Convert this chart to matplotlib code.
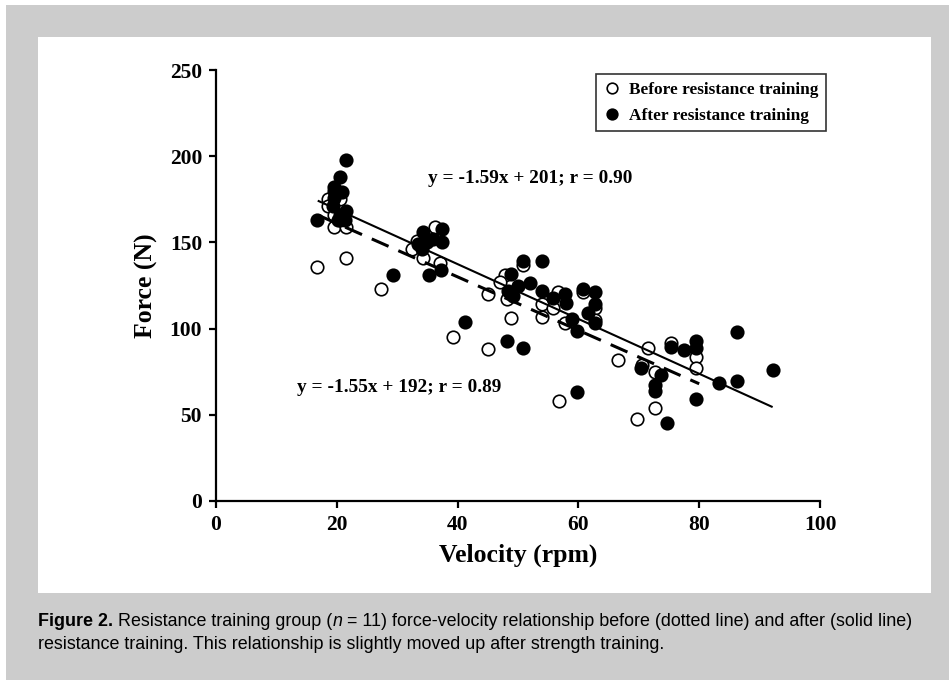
import numpy as np
import matplotlib
matplotlib.use('Agg')
from matplotlib import pyplot as plt
from matplotlib.patches import Rectangle

# before resistance training (open circles)
before_vel = [18.5, 18.5, 19.5, 20.5, 19.5, 21.5, 20.5, 16.7, 21.5, 27.4,
              36.3, 33.2, 32.4, 34.3, 37.1, 39.3, 47.8, 47.0, 45.1, 48.1,
              53.9, 56.7, 55.8, 53.9, 48.9, 57.8, 50.9, 60.8, 62.7, 45.1,
              66.6, 56.8, 69.7, 71.6, 70.6, 72.6, 72.7, 75.4, 79.5, 79.5, 62.7]
before_force = [175, 171, 166, 175, 159, 159, 163, 136, 141, 123,
                159, 151, 146, 141, 138, 95, 131, 127, 120, 117,
                114, 121, 112, 107, 106, 103, 137, 121, 112, 88,
                82, 58, 47.5, 89, 79, 74.6, 54, 91.7, 83.5, 77, 105]

# after resistance training (filled circles)
after_vel = [16.7, 19.5, 20.5, 21.5, 19.6, 20.8, 19.4, 21.6, 21.4, 20.2, 19.5, 20.5,
             29.3, 35.3, 37.3, 34.3, 37.4, 37.4, 33.5, 34.9, 34.1, 36.0, 41.2,
             48.1, 50.9, 50.9, 53.9, 48.9, 52.0, 50.0, 48.4, 53.9, 49.2, 55.8, 57.8,
             58.0, 60.8, 62.7, 62.7, 61.6, 58.9, 62.7, 59.7, 59.7, 70.4, 73.6, 72.7,
             72.7, 74.6, 75.4, 77.5, 79.5, 79.5, 79.5, 83.3, 86.3, 86.3, 92.2]
after_force = [163, 182, 188, 198, 180, 179, 171, 168, 163, 163, 176, 166,
               131, 131, 134, 156, 158, 150, 149, 150, 146, 152, 104,
               93, 88.5, 139.5, 139.5, 131.4, 126.6, 124.6, 122, 122, 119, 118, 120,
               115, 123, 121, 114, 109, 105.5, 103, 98.4, 63, 77, 73.3, 67,
               63.6, 45, 89.3, 87.4, 92.6, 88.8, 59.3, 68.4, 69.4, 98, 76.2]

# regression lines: slope, intercept, x range
before_fit = (-1.55, 192)
before_range = [17, 80]
after_fit = (-1.59, 201)
after_range = [17, 92]

x_ticks = [0, 20, 40, 60, 80, 100]
y_ticks = [0, 50, 100, 150, 200, 250]

W, H = 949, 680
fig = plt.figure(figsize=(W / 100, H / 100), dpi=100)

# grey frame with white panel
fig.patches.append(Rectangle((6 / W, 0), 1 - 6 / W, 1 - 5 / H, transform=fig.transFigure,
                             facecolor='#cccccc', edgecolor='none', zorder=-10))
fig.patches.append(Rectangle((38 / W, 1 - 593 / H), (931 - 38) / W, (593 - 37) / H,
                             transform=fig.transFigure, facecolor='white',
                             edgecolor='none', zorder=-9))

ax = fig.add_axes([216 / W, 1 - 501 / H, (820 - 216) / W, (501 - 70) / H])
ax.patch.set_alpha(0)

serif = 'Liberation Serif'

ax.plot(before_vel, before_force, 'o', ms=9, mfc='white', mec='black', mew=1.2,
        label='Before resistance training', zorder=2, clip_on=False)
ax.plot(after_vel, after_force, 'o', ms=9, mfc='black', mec='black', mew=1.2,
        label='After resistance training', zorder=2, clip_on=False)

xb = np.array(before_range)
ax.plot(xb, before_fit[0] * xb + before_fit[1], color='black', lw=2.2,
        dashes=(6, 3.5), zorder=3)
xa = np.array(after_range)
ax.plot(xa, after_fit[0] * xa + after_fit[1], color='black', lw=1.5, zorder=3)

ax.text(35.1, 187, 'y = -1.59x + 201; r = 0.90', fontsize=13.9, fontweight='bold',
        family=serif, va='center')
ax.text(13.4, 66, 'y = -1.55x + 192; r = 0.89', fontsize=13.9, fontweight='bold',
        family=serif, va='center')

ax.set_xlim(0, 100)
ax.set_ylim(0, 250)
ax.set_xticks(x_ticks)
ax.set_yticks(y_ticks)
for s in ['top', 'right']:
    ax.spines[s].set_visible(False)
for s in ['left', 'bottom']:
    ax.spines[s].set_linewidth(1.6)
ax.tick_params(direction='out', length=5, width=1.6, labelsize=15.5, pad=5)
for lab in ax.get_xticklabels() + ax.get_yticklabels():
    lab.set_family(serif)
    lab.set_fontweight('bold')

ax.set_xlabel('Velocity (rpm)', fontsize=18.5, fontweight='bold', family=serif, labelpad=6)
ax.set_ylabel('Force (N)', fontsize=18.5, fontweight='bold', family=serif, labelpad=8)

leg = ax.legend(loc='upper right', bbox_to_anchor=(1.025, 1.01), frameon=True, fancybox=False,
                prop={'family': serif, 'weight': 'bold', 'size': 12.4},
                handletextpad=0.5, borderpad=0.45, labelspacing=0.55,
                handlelength=1.0, markerscale=0.85)
leg.get_frame().set_edgecolor('black')
leg.get_frame().set_linewidth(1.2)

# caption
cap_font = 'Liberation Sans'
cs = 12.9
t1 = fig.text(38 / W, 1 - 626 / H, 'Figure 2.', fontsize=cs, fontweight='bold',
              family=cap_font, va='baseline')
a2 = plt.annotate(' Resistance training group (', xy=(1, 0), xycoords=t1, fontsize=cs,
                  family=cap_font, va='bottom', annotation_clip=False)
a3 = plt.annotate('n', xy=(1, 0), xycoords=a2, fontsize=cs, family=cap_font,
                  style='italic', va='bottom', annotation_clip=False)
a4 = plt.annotate(' = 11) force-velocity relationship before (dotted line) and after (solid line)',
                  xy=(1, 0), xycoords=a3, fontsize=cs, family=cap_font, va='bottom',
                  annotation_clip=False)
fig.text(38 / W, 1 - 649 / H,
         'resistance training. This relationship is slightly moved up after strength training.',
         fontsize=cs, family=cap_font, va='baseline')

fig.savefig('out.png', dpi=100)
